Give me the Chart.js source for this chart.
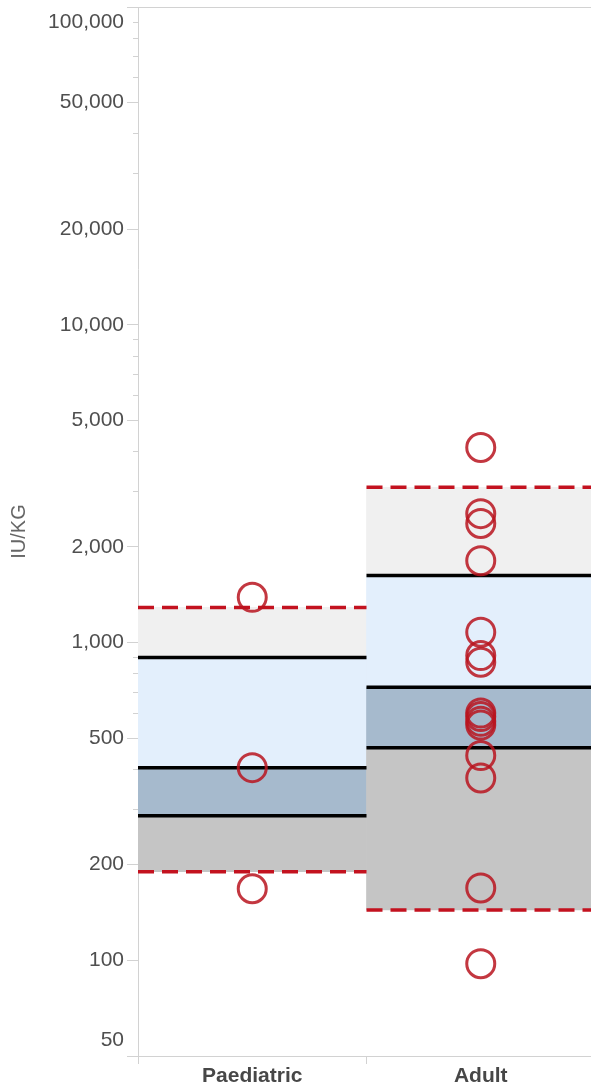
<!DOCTYPE html>
<html><head><meta charset="utf-8">
<script src="https://cdn.jsdelivr.net/npm/chart.js@4.4.1/dist/chart.umd.min.js"></script>
<style>html,body{margin:0;padding:0;background:#fff;overflow:hidden;width:591px;height:1088px}#wrap{width:595px;height:1088px}</style>
</head><body><div id="wrap"><canvas id="c" width="595" height="1088" style="width:595px;height:1088px"></canvas></div>
<script>
const categories = ['Paediatric', 'Adult'];
const upperDashed = [1290, 3080];
const upperQuartile = [897, 1625];
const medianLine = [404, 724];
const lowerQuartile = [285, 467];
const lowerDashed = [190, 144];
const paediatricValues = [1388, 404, 168];
const adultValues = [4110, 2545, 2370, 1810, 1078, 910, 867, 600, 585, 565, 550, 441, 375, 169, 97.6];
const majorTicks = [50, 100, 200, 500, 1000, 2000, 5000, 10000, 20000, 50000, 100000];
const minorTicks = [300, 400, 600, 700, 800, 900, 3000, 4000, 6000, 7000, 8000, 9000, 30000, 40000, 60000, 70000, 80000, 90000];
const yMin = 50, yMax = 100000;

Chart.defaults.font.family = '"Liberation Sans", Arial, sans-serif';

const AXIS = '#d2d2d2';
const TICK_TEXT = '#4f4f4f';
const fmt = v => Number(v).toLocaleString('en-US');

function segs(values) {
  const out = [];
  values.forEach((arr) => {
    arr.forEach((v, i) => {
      out.push({x: i - 0.5, y: v}, {x: i + 0.5, y: v}, {x: i + 0.5, y: null});
    });
  });
  return out;
}
const pointData = [];
paediatricValues.forEach(v => pointData.push({x: 0, y: v}));
adultValues.forEach(v => pointData.push({x: 1, y: v}));

const axisExtras = {
  id: 'axisExtras',
  afterDraw(chart) {
    const y = chart.scales.y, ctx = chart.ctx;
    const x0 = y.right;
    ctx.save();
    ctx.strokeStyle = AXIS; ctx.lineWidth = 1;
    minorTicks.forEach(v => {
      const p = Math.round(y.getPixelForValue(v)) + 0.5;
      ctx.beginPath(); ctx.moveTo(x0 - 5, p); ctx.lineTo(x0, p); ctx.stroke();
    });
    ctx.fillStyle = TICK_TEXT;
    ctx.font = '21px "Liberation Sans", Arial, sans-serif';
    ctx.textAlign = 'right'; ctx.textBaseline = 'middle';
    [yMax, yMin].forEach(v => {
      let p = y.getPixelForValue(v);
      p = Math.min(Math.max(p, y.top + 15), y.bottom - 16);
      ctx.fillText(fmt(v), x0 - 11 - 3, p);
    });
    ctx.restore();
  }
};

const barCommon = {type: 'bar', xAxisID: 'x', yAxisID: 'y', grouped: false, barPercentage: 1, categoryPercentage: 1, borderWidth: 0, order: 3};

new Chart(document.getElementById('c'), {
  data: {
    labels: categories,
    datasets: [
      Object.assign({}, barCommon, {label: 'low band', data: categories.map((c, i) => [lowerDashed[i], lowerQuartile[i]]), backgroundColor: '#c5c5c5'}),
      Object.assign({}, barCommon, {label: 'lower mid band', data: categories.map((c, i) => [lowerQuartile[i], medianLine[i]]), backgroundColor: '#a6bacd'}),
      Object.assign({}, barCommon, {label: 'upper mid band', data: categories.map((c, i) => [medianLine[i], upperQuartile[i]]), backgroundColor: '#e3effc'}),
      Object.assign({}, barCommon, {label: 'high band', data: categories.map((c, i) => [upperQuartile[i], upperDashed[i]]), backgroundColor: '#f0f0f0'}),
      {type: 'line', label: 'black lines', xAxisID: 'x2', yAxisID: 'y', order: 2,
       data: segs([upperQuartile, medianLine, lowerQuartile]), borderColor: '#000', borderWidth: 3.5,
       pointRadius: 0, spanGaps: false, tension: 0},
      {type: 'line', label: 'dashed lines', xAxisID: 'x2', yAxisID: 'y', order: 2,
       data: segs([upperDashed, lowerDashed]), borderColor: '#c3121f', borderWidth: 3.5, borderDash: [16, 8],
       pointRadius: 0, spanGaps: false, tension: 0},
      {type: 'line', label: 'values', xAxisID: 'x2', yAxisID: 'y', order: 1, showLine: false,
       data: pointData, pointRadius: 14, pointBorderWidth: 3, pointBackgroundColor: 'rgba(0,0,0,0)',
       pointBorderColor: 'rgba(185,20,30,0.85)'}
    ]
  },
  options: {
    responsive: false,
    animation: false,
    events: [],
    devicePixelRatio: 1,
    layout: {autoPadding: false, padding: {top: 7, left: 0, right: 0, bottom: 0}},
    plugins: {legend: {display: false}, tooltip: {enabled: false}},
    scales: {
      x: {
        type: 'category', offset: true,
        grid: {offset: true, drawOnChartArea: false, tickLength: 8, color: AXIS},
        border: {display: true, color: AXIS, width: 1},
        ticks: {padding: 0, color: '#474747', font: {size: 21, weight: 'bold'}},
        afterFit: s => { s.height = 32; s.paddingLeft = 0; s.paddingRight = 0; }
      },
      x2: {type: 'linear', min: -0.5, max: 1.5, display: false},
      y: {
        type: 'logarithmic', min: yMin, max: yMax, position: 'left',
        afterBuildTicks: s => {
          s.ticks = majorTicks.map(v => ({value: v}));
        },
        ticks: {
          autoSkip: false, padding: 3, color: TICK_TEXT, font: {size: 21},
          callback: v => (v === yMin || v === yMax) ? '' : fmt(v)
        },
        grid: {
          tickLength: 11,
          color: c => (c.tick && c.tick.value === yMax) ? AXIS : 'rgba(0,0,0,0)',
          tickColor: AXIS
        },
        border: {display: true, color: AXIS, width: 1},
        title: {display: true, text: 'IU/KG', color: '#666', font: {size: 20}, padding: {top: 7, bottom: 0}},
        afterFit: s => { s.width = 138; s.paddingTop = 0; s.paddingBottom = 0; }
      }
    }
  },
  plugins: [axisExtras]
});
</script>
</body></html>
